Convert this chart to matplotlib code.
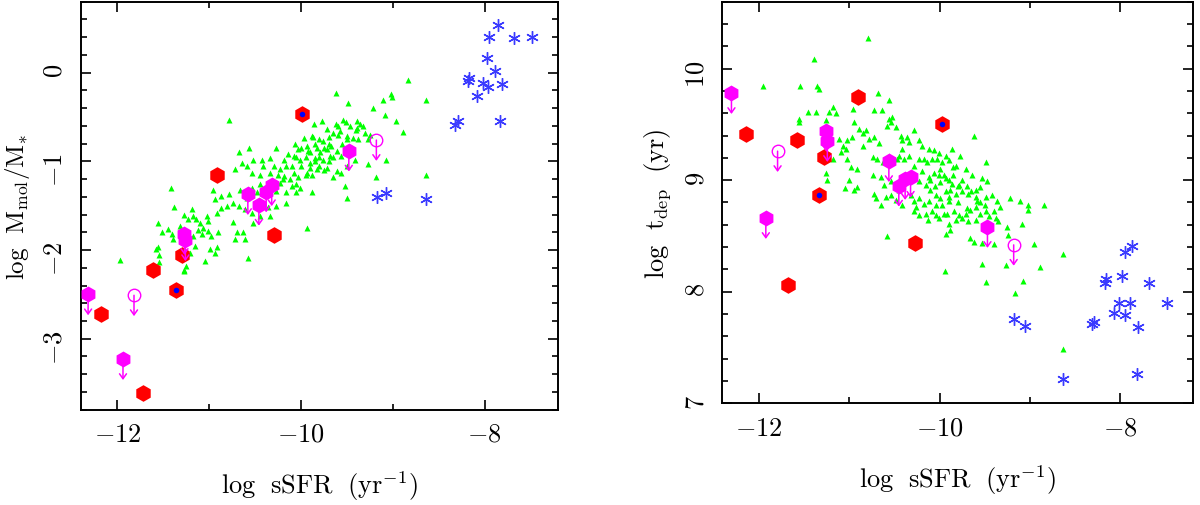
import numpy as np
import matplotlib
matplotlib.use('Agg')
import matplotlib.pyplot as plt
from matplotlib.transforms import offset_copy
from matplotlib.ticker import MultipleLocator

plt.rcParams['font.family'] = 'serif'
plt.rcParams['font.serif'] = ['cmr10']
plt.rcParams['mathtext.fontset'] = 'cm'
plt.rcParams['axes.formatter.use_mathtext'] = True

# ---------------- panel 1 : log Mmol/M* vs log sSFR ----------------
# green triangles (sample)
g1_x = [-8.84, -9.62, -9.49, -9.02, -9.01, -9.11, -8.64, -9.22, -9.09, -8.97, -8.89, -10.79,
        -9.86, -9.77, -9.72, -9.62, -9.54, -9.51, -9.47, -9.39, -9.36, -9.33, -9.39, -9.58,
        -9.65, -9.70, -9.76, -9.80, -9.87, -9.97, -9.88, -9.50, -9.43, -9.38, -9.25, -9.30,
        -9.27, -10.07, -10.03, -9.94, -9.92, -9.83, -9.79, -9.72, -9.67, -9.61, -9.56, -9.69,
        -9.76, -9.85, -9.90, -10.01, -10.08, -10.14, -10.19, -10.27, -10.34, -10.43, -10.41, -10.52,
        -10.57, -10.68, -10.64, -10.72, -10.59, -10.54, -10.45, -10.34, -10.23, -10.16, -10.08, -10.03,
        -10.12, -10.19, -10.25, -9.94, -9.88, -9.83, -9.72, -9.65, -9.61, -9.56, -9.50, -9.41,
        -9.27, -9.07, -9.18, -8.64, -9.52, -9.50, -9.94, -10.58, -10.05, -10.01, -10.10, -10.16,
        -10.05, -9.88, -10.27, -10.23, -10.45, -10.54, -10.48, -10.59, -10.67, -10.78, -10.87, -10.94,
        -10.96, -10.74, -10.81, -10.68, -10.61, -10.54, -10.41, -10.36, -10.27, -10.16, -10.34, -10.45,
        -10.52, -10.74, -10.70, -10.72, -10.63, -10.61, -10.92, -10.87, -10.91, -10.98, -11.01, -11.07,
        -11.10, -11.14, -11.18, -11.19, -11.27, -11.23, -11.12, -11.08, -11.18, -11.03, -11.01, -10.99,
        -10.94, -10.92, -11.05, -11.25, -11.27, -11.21, -11.16, -11.32,
        -9.95, -9.90, -9.85, -9.80, -9.75, -9.70, -9.65, -9.60, -9.55, -9.50, -10.00, -10.05,
        -10.10, -9.95, -9.90, -9.80, -9.75, -10.00, -9.85, -9.70, -9.45, -9.40, -9.60, -10.20, -10.30,
        -11.42, -11.38, -11.56, -11.97, -11.56, -11.55, -11.58, -11.51, -11.45, -11.39, -11.41, -11.55,
        -11.28]
g1_y = [-0.08, -0.23, -0.34, -0.24, -0.28, -0.31, -0.31, -0.40, -0.48, -0.54, -0.67, -0.53,
        -0.58, -0.55, -0.63, -0.58, -0.53, -0.56, -0.60, -0.55, -0.58, -0.60, -0.62, -0.66,
        -0.68, -0.73, -0.77, -0.75, -0.73, -0.74, -0.71, -0.71, -0.74, -0.75, -0.70, -0.68,
        -0.75, -0.81, -0.86, -0.83, -0.88, -0.85, -0.90, -0.86, -0.83, -0.88, -0.94, -0.94,
        -0.98, -0.96, -1.02, -0.98, -0.94, -0.92, -0.98, -0.85, -0.96, -0.98, -1.05, -0.98,
        -0.85, -0.90, -1.02, -1.09, -1.05, -1.13, -1.15, -1.13, -1.09, -1.05, -1.13, -1.18,
        -1.20, -1.17, -1.15, -1.13, -1.15, -1.09, -1.07, -1.18, -1.11, -1.13, -1.05, -0.98,
        -1.03, -0.98, -1.18, -1.15, -1.28, -1.41, -1.75, -2.09, -1.26, -1.30, -1.28, -1.35,
        -1.35, -1.35, -1.33, -1.24, -1.26, -1.30, -1.35, -1.41, -1.32, -1.37, -1.39, -1.43,
        -1.32, -1.47, -1.50, -1.50, -1.54, -1.58, -1.47, -1.52, -1.50, -1.47, -1.62, -1.62,
        -1.69, -1.68, -1.80, -1.88, -1.80, -1.88, -1.58, -1.53, -1.80, -1.84, -1.79, -1.75,
        -1.69, -1.65, -1.62, -1.54, -1.60, -1.65, -1.77, -1.82, -1.84, -1.62, -1.67, -1.99,
        -2.03, -1.97, -2.12, -2.18, -2.24, -2.03, -1.95, -1.73,
        -0.95, -0.90, -1.00, -0.95, -0.85, -0.80, -0.95, -0.70, -0.80, -0.75, -1.05, -0.95,
        -1.05, -1.15, -1.08, -1.05, -1.10, -0.85, -0.80, -1.00, -0.85, -0.65, -0.60, -1.20, -1.05,
        -1.30, -1.52, -1.69, -2.11, -1.97, -2.13, -1.99, -1.80, -1.76, -1.87, -1.82, -2.06,
        -2.23]

# red hexagons, those with a blue centre, magenta upper limits, open circles, blue stars
r1_x = [-10.92, -10.29, -11.30, -11.61, -12.18, -11.72]
r1_y = [-1.15, -1.83, -2.06, -2.22, -2.72, -3.61]
rb1_x = [-9.99, -11.36]
rb1_y = [-0.47, -2.45]
m1_x = [-12.32, -11.94, -11.27, -11.26, -10.58, -10.46, -10.38, -10.32, -9.48]
m1_y = [-2.50, -3.23, -1.82, -1.89, -1.37, -1.49, -1.34, -1.27, -0.88]
o1_x = [-11.82, -9.18]
o1_y = [-2.51, -0.76]
s1_x = [-7.86, -7.95, -7.68, -7.48, -7.97, -7.89, -8.17, -8.18, -8.02, -7.96, -7.81, -8.08,
        -8.29, -8.32, -7.83, -9.17, -9.07, -8.64]
s1_y = [0.54, 0.40, 0.39, 0.40, 0.16, 0.02, -0.06, -0.09, -0.12, -0.16, -0.13, -0.26,
        -0.55, -0.59, -0.55, -1.40, -1.36, -1.42]

# ---------------- panel 2 : log t_dep vs log sSFR ----------------
g2_x = [-10.68, -10.56, -10.72, -10.64, -10.96, -11.18, -11.14, -11.22, -11.25, -11.33, -10.94, -10.89,
        -10.81, -10.85, -10.78, -10.72, -10.67, -10.85, -10.56, -10.52, -10.54, -10.58, -10.48, -10.43,
        -10.41, -10.36, -10.34, -10.28, -10.23, -10.19, -10.12, -10.06, -10.01, -9.93, -9.86, -9.77,
        -9.62, -9.49, -10.41, -10.45, -10.39, -10.34, -10.28, -10.23, -10.17, -10.14, -10.08, -10.03,
        -9.97, -9.90, -9.82, -9.71, -9.64, -9.53, -9.47, -9.55, -9.60, -9.68, -9.75, -9.79,
        -9.86, -9.93, -10.01, -10.06, -10.12, -10.19, -10.23, -10.15, -10.10, -10.04, -9.99, -9.93,
        -9.88, -9.82, -9.90, -9.97, -10.04, -10.12, -10.17, -10.23, -10.28, -10.26, -10.04, -10.01,
        -9.92, -9.84, -9.79, -9.71, -9.66, -9.60, -9.59, -9.49, -9.42, -9.36, -9.33, -9.40,
        -9.49, -9.55, -9.60, -9.69, -9.75, -9.82, -9.90, -9.88, -9.93, -9.66, -9.62, -9.38,
        -9.35, -9.22, -9.11, -9.02, -9.02, -8.84, -9.25, -9.09, -9.24, -9.53, -9.40, -8.96,
        -8.63, -8.89, -9.27, -9.53, -9.94, -9.49, -9.08, -9.16, -10.58, -11.11, -11.07, -11.03,
        -11.09, -10.97, -11.02, -11.18, -11.25, -11.24, -11.02, -10.98, -10.91, -11.00, -11.05, -10.94,
        -10.91, -10.74, -10.69, -10.63, -10.56, -10.47, -10.74, -10.65, -10.54, -10.72, -10.70, -10.65,
        -10.59, -10.54, -10.48, -10.45, -10.61, -10.32, -10.41, -10.28, -10.23, -10.15, -10.08, -10.13,
        -10.00, -9.95, -9.90, -9.85, -9.80, -9.75, -9.70, -9.65, -9.60, -9.55, -9.50, -9.90,
        -10.05, -10.10, -9.80, -9.70, -9.95, -9.45, -9.85, -10.00,
        -11.95, -11.54, -11.35, -11.39, -10.79, -11.55, -11.55, -11.45, -11.37, -8.64]
g2_y = [9.78, 9.72, 9.63, 9.63, 9.64, 9.66, 9.60, 9.61, 9.54, 9.82, 9.52, 9.46,
        9.45, 9.42, 9.37, 9.39, 9.33, 9.31, 9.55, 9.57, 9.52, 9.49, 9.48, 9.40,
        9.36, 9.39, 9.34, 9.45, 9.36, 9.31, 9.28, 9.27, 9.24, 9.22, 9.28, 9.22,
        9.40, 9.16, 9.28, 9.22, 9.19, 9.22, 9.13, 9.19, 9.19, 9.16, 9.19, 9.19,
        9.16, 9.18, 9.13, 9.10, 9.05, 9.02, 8.99, 8.94, 8.91, 8.88, 8.90, 8.96,
        8.97, 9.02, 9.05, 9.06, 9.03, 9.08, 8.99, 8.96, 8.91, 8.87, 8.84, 8.90,
        8.91, 8.88, 8.81, 8.78, 8.78, 8.81, 8.79, 8.84, 8.81, 8.76, 8.69, 8.66,
        8.70, 8.72, 8.69, 8.70, 8.73, 8.76, 8.81, 8.85, 8.87, 8.81, 8.76, 8.72,
        8.72, 8.70, 8.64, 8.63, 8.66, 8.64, 8.61, 8.55, 8.52, 8.48, 8.45, 8.66,
        8.63, 8.84, 8.81, 8.78, 8.73, 8.78, 8.58, 8.61, 8.51, 8.44, 8.43, 8.43,
        8.34, 8.22, 8.24, 8.25, 8.19, 8.09, 8.10, 7.99, 8.50, 9.37, 9.31, 9.28,
        9.25, 9.39, 9.36, 9.19, 9.06, 9.00, 9.19, 9.12, 9.10, 9.00, 8.93, 8.91,
        8.94, 9.21, 9.19, 9.16, 9.22, 9.19, 9.05, 9.03, 8.99, 8.88, 8.84, 8.78,
        8.85, 8.87, 8.82, 8.91, 8.96, 8.87, 8.78, 8.72, 8.69, 8.70, 8.72, 8.64,
        9.10, 9.05, 9.00, 9.05, 8.95, 9.00, 8.95, 8.90, 8.85, 8.80, 8.78, 8.85,
        8.95, 9.00, 8.80, 8.75, 8.70, 8.68, 9.12, 8.98,
        9.84, 9.84, 9.84, 10.09, 10.27, 9.55, 9.52, 9.61, 9.61, 7.49]

r2_x = [-10.90, -12.14, -11.57, -11.28, -10.27, -11.68]
r2_y = [9.75, 9.41, 9.36, 9.21, 8.44, 8.06]
rb2_x = [-9.97, -11.33]
rb2_y = [9.50, 8.87]
m2_x = [-12.30, -11.92, -11.25, -11.24, -10.56, -10.45, -10.38, -10.32, -9.47]
m2_y = [9.78, 8.66, 9.44, 9.35, 9.17, 8.95, 9.01, 9.03, 8.58]
o2_x = [-11.79, -9.18]
o2_y = [9.26, 8.42]
s2_x = [-7.87, -7.95, -8.16, -8.17, -7.98, -7.68, -8.02, -7.89, -7.49, -8.07, -7.95, -8.29,
        -8.31, -7.81, -9.18, -9.05, -8.64, -7.82]
s2_y = [8.41, 8.36, 8.11, 8.08, 8.14, 8.08, 7.90, 7.90, 7.90, 7.81, 7.79, 7.73,
        7.71, 7.68, 7.76, 7.69, 7.22, 7.26]


def draw_panel(ax, gx, gy, rx, ry, rbx, rby, mx, my, ox, oy, sx, sy):
    ax.plot(gx, gy, '^', color='#00ff00', ms=5, mec='none', ls='none', zorder=2)
    ax.plot(rx + rbx, ry + rby, 'h', color='#ff0000', ms=12, mec='none', ls='none', zorder=3)
    ax.plot(rbx, rby, 'o', color='#0000ff', ms=4, mec='none', ls='none', zorder=4)
    ax.plot(mx, my, 'h', color='#ff00ff', ms=11.5, mec='none', ls='none', zorder=3)
    ax.plot(ox, oy, 'o', mfc='none', mec='#ff00ff', mew=1.0, ms=9, ls='none', zorder=3)
    ax.plot(sx, sy, marker=(6, 2, 0), color='#3a3aff', ms=9, mew=1.0, ls='none', zorder=3)
    # upper limit arrows
    down = offset_copy(ax.transData, fig=ax.figure, x=0, y=-15, units='points')
    for x, y in list(zip(mx, my)) + list(zip(ox, oy)):
        ax.annotate('', xy=(x, y), xycoords=down, xytext=(x, y), textcoords='data',
                    arrowprops=dict(arrowstyle='->,head_length=0.35,head_width=0.25',
                                    color='#ff00ff', lw=1.1, shrinkA=0, shrinkB=0),
                    zorder=3)
    ax.set_xlim(-12.4, -7.2)
    ax.xaxis.set_major_locator(MultipleLocator(2))
    ax.xaxis.set_minor_locator(MultipleLocator(1))
    ax.yaxis.set_major_locator(MultipleLocator(1))
    ax.yaxis.set_minor_locator(MultipleLocator(0.2))
    ax.tick_params(which='both', direction='in', top=True, right=True, width=1.2)
    ax.tick_params(which='major', length=7, labelsize=19)
    ax.tick_params(which='minor', length=4)
    ax.tick_params(axis='x', pad=9)
    ax.tick_params(axis='y', labelrotation=90, pad=10)
    for sp in ax.spines.values():
        sp.set_linewidth(1.4)
    ax.set_xlabel(r'$\mathrm{log\ \ sSFR\ \ (yr^{-1})}$', fontsize=19, labelpad=16)


fig = plt.figure(figsize=(12, 5.06), dpi=100)
ax1 = fig.add_axes([0.0673, 0.1883, 0.3978, 0.8064])
ax2 = fig.add_axes([0.602, 0.201, 0.392, 0.7937])

draw_panel(ax1, g1_x, g1_y, r1_x, r1_y, rb1_x, rb1_y, m1_x, m1_y, o1_x, o1_y, s1_x, s1_y)
ax1.set_ylim(-3.8, 0.8)
ax1.set_ylabel(r'$\mathrm{log\ \ M_{mol}/M_{*}}$', fontsize=18, labelpad=8)

draw_panel(ax2, g2_x, g2_y, r2_x, r2_y, rb2_x, rb2_y, m2_x, m2_y, o2_x, o2_y, s2_x, s2_y)
ax2.set_ylim(7.0, 10.6)
ax2.set_ylabel(r'$\mathrm{log\ \ t_{dep}\ \ (yr)}$', fontsize=19, labelpad=8)

plt.savefig('out.png', dpi=100)
